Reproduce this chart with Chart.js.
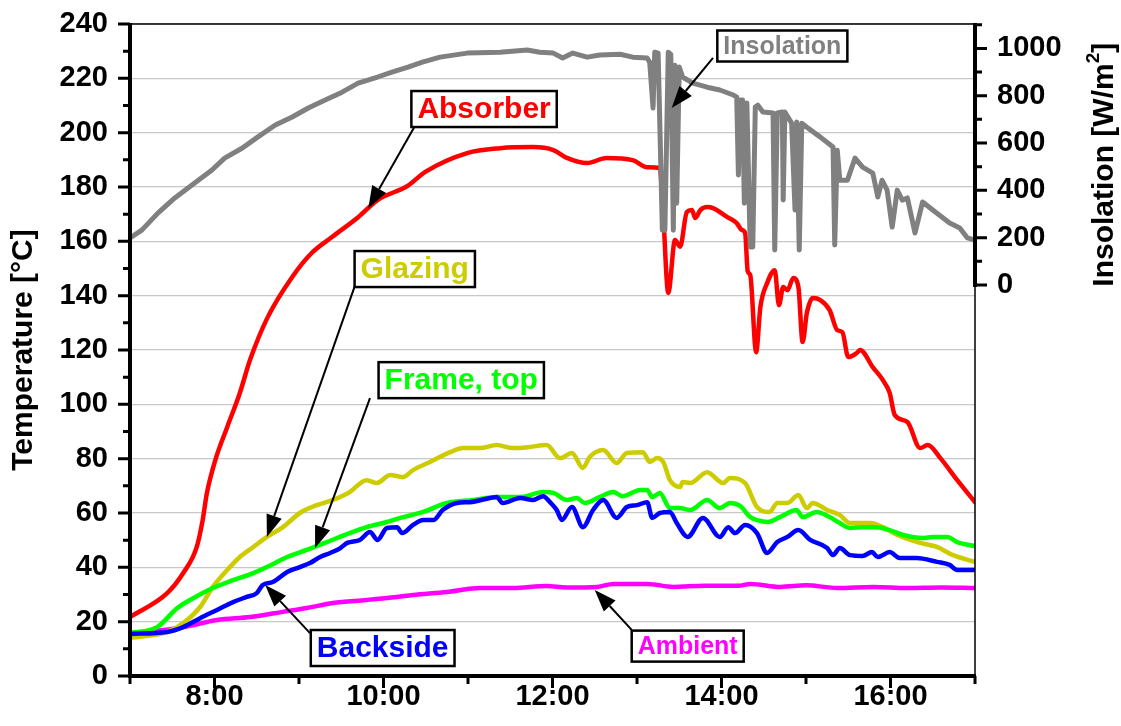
<!DOCTYPE html>
<html>
<head>
<meta charset="utf-8">
<script src="https://cdn.jsdelivr.net/npm/chart.js@4/dist/chart.umd.min.js"></script>
<style>
  html, body { margin: 0; padding: 0; background: #ffffff; }
  canvas { display: block; }
</style>
</head>
<body>
<canvas id="chart" width="1121" height="726"></canvas>
<script>
// Time of day in decimal hours, temperatures in °C, insolation in W/m²
const absorberHours = [7.00,7.44,7.63,7.79,7.86,7.91,8.01,8.15,8.30,8.42,8.63,8.92,9.15,9.39,9.70,9.93,10.29,10.49,10.99,11.38,11.77,12.01,12.17,12.41,12.64,12.95,13.12,13.27,13.31,13.37,13.45,13.51,13.59,13.65,13.69,13.75,13.83,13.90,14.07,14.18,14.24,14.28,14.31,14.34,14.41,14.46,14.54,14.63,14.68,14.73,14.78,14.85,14.91,14.96,15.01,15.08,15.17,15.28,15.37,15.43,15.50,15.60,15.64,15.79,15.91,15.99,16.05,16.20,16.35,16.44,16.59,16.79,17.00];
const absorberTemp  = [21.7,30.5,37.9,47.5,57.4,67.3,79.5,91.6,104.2,116.3,132.1,146.9,155.7,161.6,168.9,175.2,180.5,185.5,192.5,194.3,194.7,193.6,190.7,188.8,190.7,189.9,187.3,187.0,170.0,141.0,160.5,158.0,170.8,171.5,168.6,171.5,172.6,172.2,168.9,166.7,164.2,163.0,149.0,147.6,119.2,135.8,144.6,149.4,136.5,143.2,142.0,146.5,143.2,122.9,133.6,139.1,138.4,134.7,127.3,126.6,117.4,118.9,120.0,113.7,108.9,104.2,96.1,93.5,83.9,85.0,80.2,72.1,64.0];

const insolationHours = [7.00,7.14,7.33,7.53,7.73,7.97,8.12,8.33,8.51,8.72,8.92,9.11,9.31,9.51,9.70,9.93,10.10,10.29,10.46,10.67,10.99,11.38,11.70,11.85,12.01,12.12,12.24,12.41,12.56,12.80,12.95,13.12,13.15,13.19,13.21,13.25,13.30,13.33,13.37,13.40,13.43,13.45,13.47,13.50,13.54,13.66,13.83,13.98,14.14,14.18,14.20,14.22,14.25,14.27,14.30,14.34,14.37,14.40,14.43,14.49,14.61,14.63,14.66,14.72,14.73,14.75,14.83,14.87,14.89,14.92,14.95,15.01,15.17,15.32,15.34,15.37,15.40,15.49,15.58,15.67,15.79,15.85,15.90,15.96,16.02,16.08,16.14,16.20,16.29,16.38,16.50,16.70,16.82,16.91,17.00];
const insolationWm2  = [199,232,304,368,422,486,536,579,625,676,710,748,782,815,853,879,900,921,942,963,980,984,993,984,980,959,980,963,972,975,963,959,942,748,984,980,232,232,984,975,232,929,346,921,879,853,836,824,803,794,465,782,782,346,769,161,161,752,760,731,727,148,727,731,359,731,684,317,689,148,684,667,625,583,169,570,443,443,536,498,473,372,443,401,245,401,359,368,220,351,317,262,241,199,190];

const glazingHours = [7.00,7.44,7.63,7.83,7.98,8.15,8.30,8.46,8.62,8.81,9.01,9.21,9.40,9.60,9.80,9.92,10.08,10.23,10.35,10.55,10.79,10.94,11.14,11.34,11.53,11.73,11.93,12.09,12.23,12.36,12.44,12.60,12.76,12.88,13.07,13.15,13.24,13.31,13.39,13.51,13.54,13.63,13.83,14.02,14.10,14.28,14.42,14.57,14.66,14.78,14.91,15.01,15.08,15.25,15.40,15.52,15.76,15.91,16.08,16.35,16.55,16.74,17.00];
const glazingTemp  = [14.0,16.2,19.5,25.4,32.8,39.0,43.8,47.5,51.2,54.8,60.0,62.9,64.8,67.7,72.1,71.0,74.0,73.2,75.8,78.8,82.4,83.9,83.9,85.0,83.9,84.3,85.0,80.2,82.1,76.6,80.6,83.2,78.4,82.1,82.4,78.8,80.2,78.8,72.1,69.6,71.4,71.0,75.0,71.0,72.9,71.0,62.2,60.4,63.7,63.7,66.6,61.8,63.7,61.1,59.3,56.3,56.3,54.8,51.9,49.0,47.5,44.5,42.0];

const frameHours = [7.00,7.32,7.56,7.71,7.98,8.22,8.46,8.62,8.86,9.09,9.33,9.60,9.80,10.04,10.20,10.47,10.75,11.06,11.34,11.62,11.89,12.01,12.17,12.29,12.38,12.56,12.72,12.83,13.04,13.12,13.18,13.27,13.39,13.51,13.63,13.83,13.98,14.10,14.22,14.34,14.42,14.55,14.69,14.89,14.96,15.13,15.28,15.40,15.52,15.67,15.84,15.99,16.15,16.38,16.50,16.67,16.79,17.00];
const frameTemp  = [15.8,18.0,25.0,28.0,32.4,35.3,37.9,40.1,43.8,46.4,49.3,52.6,54.8,56.7,58.2,60.4,63.7,64.8,65.9,65.9,67.7,67.4,64.8,65.5,63.7,65.9,67.7,66.2,68.5,68.5,65.9,67.4,61.8,61.8,61.1,64.8,61.8,63.7,62.6,58.5,57.4,56.7,58.5,61.1,58.5,60.4,58.5,56.3,54.5,54.8,54.8,53.7,51.9,50.8,51.2,51.2,49.3,47.8];

const backsideHours = [7.00,7.44,7.63,7.83,8.03,8.22,8.38,8.50,8.57,8.69,8.86,9.01,9.13,9.25,9.37,9.49,9.57,9.72,9.84,9.93,10.04,10.16,10.22,10.35,10.47,10.59,10.70,10.87,11.02,11.26,11.34,11.41,11.62,11.77,11.89,11.97,12.05,12.11,12.23,12.36,12.48,12.60,12.76,12.88,13.00,13.12,13.18,13.27,13.39,13.47,13.60,13.78,13.98,14.08,14.16,14.28,14.42,14.54,14.66,14.78,14.91,15.05,15.25,15.32,15.40,15.52,15.67,15.78,15.85,15.99,16.11,16.31,16.55,16.70,16.79,17.00];
const backsideTemp  = [15.5,16.2,18.0,21.3,24.3,27.2,29.1,30.5,33.5,34.6,38.3,40.1,41.6,43.8,45.3,47.1,49.0,50.1,53.0,50.1,54.5,54.8,52.6,55.6,57.4,57.4,61.1,63.7,64.0,65.5,65.9,63.7,65.5,64.8,66.2,64.0,61.1,57.4,62.2,54.8,61.1,64.8,58.2,62.2,62.9,64.0,58.2,60.0,60.4,56.3,51.2,58.2,51.2,54.8,52.6,55.6,52.6,45.3,49.3,51.2,53.7,50.1,47.1,44.5,47.1,44.5,44.2,45.6,43.8,45.6,43.4,43.4,42.0,40.9,39.0,39.0];

const ambientHours = [7.00,7.63,8.03,8.42,8.81,9.09,9.40,9.80,10.16,10.35,10.75,11.14,11.53,11.93,12.17,12.53,12.72,13.12,13.43,13.80,14.20,14.34,14.70,15.00,15.37,15.80,16.20,16.60,17.00];
const ambientTemp  = [15.5,18.0,20.6,21.7,23.6,25.0,26.9,28.0,29.1,29.8,30.9,32.4,32.4,33.1,32.6,32.8,33.9,33.9,32.8,33.2,33.2,33.9,32.8,33.4,32.4,32.8,32.4,32.6,32.4];

// Axis ranges
const hourMin = 7, hourMax = 17;
const tempMin = 0, tempMax = 240;
const insolationTickMin = 0, insolationTickMax = 1000;
const insolationAxisMin = -1652, insolationAxisMax = 1103;

const FONT = "'Liberation Sans', Arial, Helvetica, sans-serif";

function points(hours, values) {
  return hours.map((h, i) => ({ x: h, y: values[i] }));
}

// Callout labels with arrows (positions in hour / °C units)
const callouts = [
  { text: 'Insolation', color: '#808080', size: 25, box: [14.72, 231.9], tail: [13.90, 227.5], tip: [13.41, 209.1] },
  { text: 'Absorber',   color: '#ff0000', size: 30, box: [11.19, 208.7], tail: [10.37, 202.4], tip: [9.82, 172.2] },
  { text: 'Glazing',    color: '#cccc00', size: 30, box: [10.37, 149.8], tail: [9.66, 143.5],  tip: [8.62, 51.2] },
  { text: 'Frame, top', color: '#00ff00', size: 30, box: [10.92, 108.9], tail: [9.84, 102.3],  tip: [9.19, 47.1] },
  { text: 'Backside',   color: '#0000ff', size: 30, box: [9.99, 10.3],   tail: [9.13, 15.8],   tip: [8.60, 33.5] },
  { text: 'Ambient',    color: '#ff00ff', size: 25, box: [13.60, 11.0],  tail: [12.94, 16.9],  tip: [12.50, 31.7] }
];

const calloutPlugin = {
  id: 'callouts',
  afterDatasetsDraw(chart) {
    const { ctx, scales: { x, y } } = chart;
    ctx.save();
    callouts.forEach(c => {
      const tx = x.getPixelForValue(c.tail[0]), ty = y.getPixelForValue(c.tail[1]);
      const px = x.getPixelForValue(c.tip[0]),  py = y.getPixelForValue(c.tip[1]);
      const ang = Math.atan2(py - ty, px - tx);
      const headLen = 22, headHalf = 8;
      const bx = px - headLen * Math.cos(ang), by = py - headLen * Math.sin(ang);
      ctx.strokeStyle = '#000';
      ctx.lineWidth = 2;
      ctx.beginPath();
      ctx.moveTo(tx, ty);
      ctx.lineTo(bx, by);
      ctx.stroke();
      ctx.fillStyle = '#000';
      ctx.beginPath();
      ctx.moveTo(px, py);
      ctx.lineTo(bx + headHalf * Math.sin(ang), by - headHalf * Math.cos(ang));
      ctx.lineTo(bx - headHalf * Math.sin(ang), by + headHalf * Math.cos(ang));
      ctx.closePath();
      ctx.fill();

      ctx.font = 'bold ' + c.size + 'px ' + FONT;
      const w = ctx.measureText(c.text).width + 12;
      const h = c.size + 6;
      const cx = x.getPixelForValue(c.box[0]), cy = y.getPixelForValue(c.box[1]);
      ctx.fillStyle = '#fff';
      ctx.fillRect(cx - w / 2, cy - h / 2, w, h);
      ctx.strokeStyle = '#000';
      ctx.lineWidth = 2.5;
      ctx.strokeRect(cx - w / 2, cy - h / 2, w, h);
      ctx.fillStyle = c.color;
      ctx.textAlign = 'center';
      ctx.textBaseline = 'middle';
      ctx.fillText(c.text, cx, cy + 1);
    });
    ctx.restore();
  }
};

// Frame, axis lines, tick marks and axis titles
const framePlugin = {
  id: 'frame',
  afterDraw(chart) {
    const { ctx, chartArea: a, scales: { x, y, y2 } } = chart;
    ctx.save();
    ctx.strokeStyle = '#000';
    ctx.lineCap = 'butt';

    // thin top and right frame
    ctx.lineWidth = 1.5;
    ctx.beginPath();
    ctx.moveTo(a.left, a.top); ctx.lineTo(a.right, a.top);
    ctx.moveTo(a.right, a.top); ctx.lineTo(a.right, a.bottom);
    ctx.stroke();

    // thick left and bottom axes
    ctx.lineWidth = 4;
    ctx.beginPath();
    ctx.moveTo(a.left, a.top - 1); ctx.lineTo(a.left, a.bottom + 2);
    ctx.moveTo(a.left - 2, a.bottom); ctx.lineTo(a.right + 1, a.bottom);
    ctx.stroke();

    // thick right insolation axis (only over its own range)
    const y2Zero = y2.getPixelForValue(insolationTickMin);
    ctx.beginPath();
    ctx.moveTo(a.right, a.top - 1); ctx.lineTo(a.right, y2Zero + 2);
    ctx.stroke();

    ctx.lineWidth = 3;
    ctx.beginPath();
    for (let v = tempMin; v <= tempMax; v += 10) {
      const py = y.getPixelForValue(v);
      const len = v % 20 === 0 ? 12 : 7;
      ctx.moveTo(a.left, py); ctx.lineTo(a.left - len, py);
    }
    for (let h = hourMin; h <= hourMax; h += 1) {
      const px = x.getPixelForValue(h);
      const len = h % 2 === 0 ? 12 : 8;
      ctx.moveTo(px, a.bottom); ctx.lineTo(px, a.bottom + len);
    }
    for (let v = insolationTickMin; v <= 1100; v += 100) {
      const py = y2.getPixelForValue(v);
      const len = v % 200 === 0 ? 12 : 7;
      ctx.moveTo(a.right, py); ctx.lineTo(a.right + len, py);
    }
    ctx.stroke();

    // axis titles
    ctx.fillStyle = '#000';
    ctx.textBaseline = 'middle';
    ctx.font = 'bold 30px ' + FONT;
    ctx.save();
    ctx.translate(24, (a.top + a.bottom) / 2);
    ctx.rotate(-Math.PI / 2);
    ctx.textAlign = 'center';
    ctx.fillText('Temperature [°C]', 0, 0);
    ctx.restore();

    const mainPart = 'Insolation [W/m', supPart = '2', endPart = ']';
    const bigFont = 'bold 30px ' + FONT, supFont = 'bold 19px ' + FONT;
    ctx.font = bigFont;
    const w1 = ctx.measureText(mainPart).width, w3 = ctx.measureText(endPart).width;
    ctx.font = supFont;
    const w2 = ctx.measureText(supPart).width;
    const total = w1 + w2 + w3;
    ctx.save();
    ctx.translate(1105, y2.getPixelForValue(500) - 2);
    ctx.rotate(-Math.PI / 2);
    ctx.textAlign = 'left';
    let sx = -total / 2;
    ctx.font = bigFont; ctx.fillText(mainPart, sx, 0); sx += w1;
    ctx.font = supFont; ctx.fillText(supPart, sx, -11); sx += w2;
    ctx.font = bigFont; ctx.fillText(endPart, sx, 0);
    ctx.restore();

    ctx.restore();
  }
};

const lineStyle = { pointRadius: 0, borderWidth: 4.5, fill: false, borderJoinStyle: 'round', borderCapStyle: 'round' };
const tickFont = { family: FONT, size: 29, weight: 'bold' };

// Fixed axis box sizes so the plot area spans 130..975 x 24..676
function fixVertical(width) {
  return s => { s.width = width; s.paddingTop = 0; s.paddingBottom = 0; };
}

new Chart(document.getElementById('chart'), {
  type: 'line',
  data: {
    datasets: [
      Object.assign({ label: 'Insolation', data: points(insolationHours, insolationWm2), borderColor: '#808080', yAxisID: 'y2', tension: 0 }, lineStyle, { borderWidth: 5 }),
      Object.assign({ label: 'Absorber', data: points(absorberHours, absorberTemp), borderColor: '#ff0000', yAxisID: 'y', cubicInterpolationMode: 'monotone' }, lineStyle),
      Object.assign({ label: 'Backside', data: points(backsideHours, backsideTemp), borderColor: '#0000ff', yAxisID: 'y', cubicInterpolationMode: 'monotone' }, lineStyle),
      Object.assign({ label: 'Frame, top', data: points(frameHours, frameTemp), borderColor: '#00ff00', yAxisID: 'y', cubicInterpolationMode: 'monotone' }, lineStyle),
      Object.assign({ label: 'Glazing', data: points(glazingHours, glazingTemp), borderColor: '#cccc00', yAxisID: 'y', cubicInterpolationMode: 'monotone' }, lineStyle),
      Object.assign({ label: 'Ambient', data: points(ambientHours, ambientTemp), borderColor: '#ff00ff', yAxisID: 'y', cubicInterpolationMode: 'monotone' }, lineStyle)
    ]
  },
  options: {
    responsive: false,
    animation: false,
    devicePixelRatio: 1,
    layout: { padding: { top: 24, left: 0, right: 0, bottom: 0 } },
    plugins: { legend: { display: false }, tooltip: { enabled: false } },
    scales: {
      x: {
        type: 'linear',
        min: hourMin, max: hourMax,
        border: { display: false },
        grid: { display: false, drawTicks: false },
        ticks: {
          stepSize: 1, autoSkip: false, maxRotation: 0, padding: 4, includeBounds: false,
          color: '#000', font: tickFont,
          callback: v => (v % 2 === 0 ? v + ':00' : '')
        },
        afterFit: s => { s.height = 50; s.paddingLeft = 0; s.paddingRight = 0; }
      },
      y: {
        position: 'left',
        min: tempMin, max: tempMax,
        border: { display: false },
        grid: { color: '#c8c8c8', lineWidth: 1.2, drawTicks: false },
        ticks: {
          stepSize: 20, padding: 22,
          color: '#000', font: tickFont
        },
        afterFit: fixVertical(130)
      },
      y2: {
        position: 'right',
        min: insolationAxisMin, max: insolationAxisMax,
        border: { display: false },
        grid: { display: false, drawTicks: false },
        ticks: {
          stepSize: 200, autoSkip: false, padding: 22, includeBounds: false,
          color: '#000', font: tickFont,
          callback: v => (v >= insolationTickMin && v <= insolationTickMax && v % 200 === 0 ? String(v) : '')
        },
        afterFit: fixVertical(146)
      }
    }
  },
  plugins: [calloutPlugin, framePlugin]
});
</script>
</body>
</html>
